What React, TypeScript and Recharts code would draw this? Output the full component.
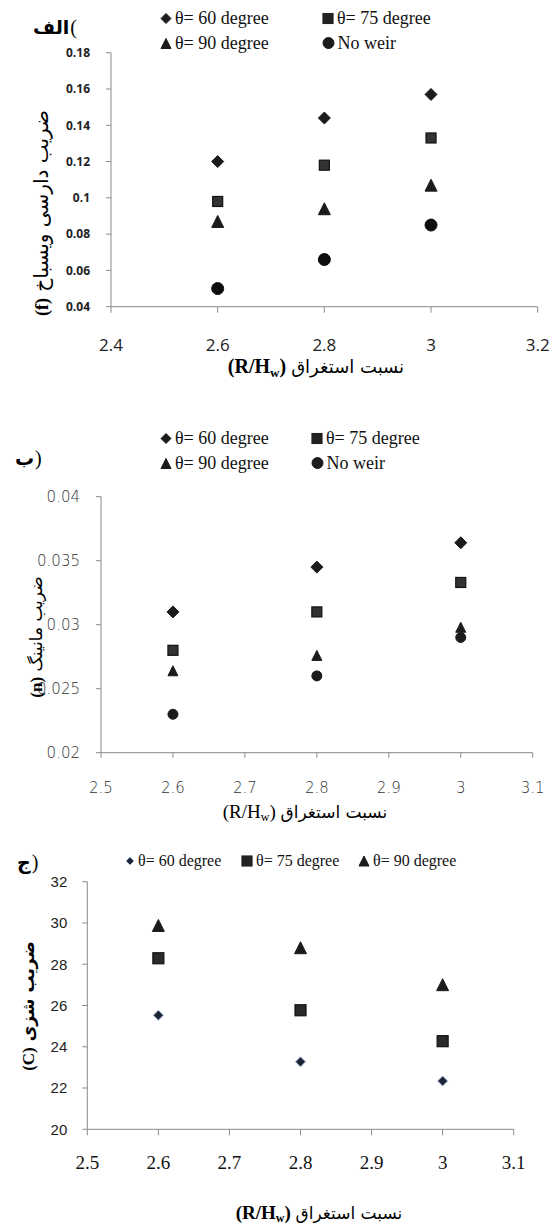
import React from "react";
import { ScatterChart, Scatter, XAxis, YAxis } from "recharts";

// shared x positions (R/Hw)
const X_VALUES = [2.6, 2.8, 3.0];

// (الف) Darcy-Weisbach f
const F_THETA60 = [0.120, 0.144, 0.157];
const F_THETA75 = [0.098, 0.118, 0.133];
const F_THETA90 = [0.087, 0.094, 0.107];
const F_NOWEIR = [0.050, 0.066, 0.085];
const F_Y_TICKS = [0.04, 0.06, 0.08, 0.1, 0.12, 0.14, 0.16, 0.18];
const F_X_TICKS = [2.4, 2.6, 2.8, 3, 3.2];

// (ب) Manning n
const N_THETA60 = [0.0310, 0.0345, 0.0364];
const N_THETA75 = [0.0280, 0.0310, 0.0333];
const N_THETA90 = [0.0264, 0.0276, 0.0298];
const N_NOWEIR = [0.0230, 0.0260, 0.0290];
const N_Y_TICKS = [0.02, 0.025, 0.03, 0.035, 0.04];
const N_X_TICKS = [2.5, 2.6, 2.7, 2.8, 2.9, 3, 3.1];

// (ج) Chezy C
const C_THETA60 = [25.53, 23.27, 22.34];
const C_THETA75 = [28.29, 25.77, 24.27];
const C_THETA90 = [29.88, 28.8, 27.01];
const C_Y_TICKS = [20, 22, 24, 26, 28, 30, 32];
const C_X_TICKS = [2.5, 2.6, 2.7, 2.8, 2.9, 3, 3.1];

const LABEL_60 = "θ= 60 degree";
const LABEL_75 = "θ= 75 degree";
const LABEL_90 = "θ= 90 degree";
const LABEL_NOWEIR = "No weir";

const toPoints = (ys: number[]) => X_VALUES.map((x, i) => ({ x, y: ys[i] }));

type Kind = "diamond" | "square" | "triangle" | "circle";

function Marker({ kind, cx, cy, s, fill, stroke }: {
  kind: Kind; cx: number; cy: number; s: number; fill: string; stroke?: string;
}) {
  const h = s / 2;
  const st = stroke || fill;
  if (kind === "diamond")
    return <polygon points={`${cx},${cy - h} ${cx + h},${cy} ${cx},${cy + h} ${cx - h},${cy}`} fill={fill} stroke={st} strokeWidth={1} />;
  if (kind === "square")
    return <rect x={cx - h} y={cy - h} width={s} height={s} fill={fill} stroke={st} strokeWidth={1.2} />;
  if (kind === "triangle")
    return <polygon points={`${cx},${cy - h} ${cx + h},${cy + h} ${cx - h},${cy + h}`} fill={fill} stroke={st} strokeWidth={1} />;
  return <circle cx={cx} cy={cy} r={h} fill={fill} stroke={st} strokeWidth={1} />;
}

const shape = (kind: Kind, s: number, fill: string, stroke?: string) => (p: any) =>
  <Marker kind={kind} cx={p.cx} cy={p.cy} s={s} fill={fill} stroke={stroke} />;

function LegendItem({ x, y, kind, s, label, fill, stroke, font }: any) {
  return (
    <div style={{ position: "absolute", left: x - s / 2 - 1, top: y, transform: "translateY(-50%)", display: "flex", alignItems: "center", whiteSpace: "nowrap", ...font }}>
      <svg width={s + 2} height={s + 2} style={{ marginRight: 3 }}>
        <Marker kind={kind} cx={s / 2 + 1} cy={s / 2 + 1} s={s} fill={fill} stroke={stroke} />
      </svg>
      <span>{label}</span>
    </div>
  );
}

function Txt({ x, y, rot, style, children }: any) {
  return (
    <div style={{
      position: "absolute", left: x, top: y, whiteSpace: "nowrap", lineHeight: 1,
      transform: `translate(-50%, -50%)${rot ? ` rotate(${rot}deg)` : ""}`, ...style,
    }}>{children}</div>
  );
}

// panel letter + paren kept as two boxes so the paren stays on the right
function Panel({ x, y, word, paren }: { x: number; y: number; word: string; paren: string }) {
  return (
    <div style={{ position: "absolute", left: x, top: y, transform: "translateY(-50%)", display: "flex", alignItems: "center", lineHeight: 1 }}>
      <span style={{ fontFamily: "'DejaVu Sans', sans-serif", fontSize: 19, fontWeight: 700 }}>{word}</span>
      <span style={{ fontFamily: "'Liberation Serif', serif", fontSize: 20, marginLeft: 1 }}>{paren}</span>
    </div>
  );
}

const Sub = ({ size }: { size: number }) => (
  <span style={{ fontSize: size, verticalAlign: "-0.3em", lineHeight: 0 }}>w</span>
);

const axisGrey = "#8a8a8a";
const ink = "#1b1b1b";
const serif = { fontFamily: "'Liberation Serif', 'Times New Roman', serif", fontSize: 18, color: "#111" };
const arabic = { fontFamily: "'DejaVu Sans', sans-serif" };

export default function App() {
  return (
    <div style={{ position: "absolute", left: 0, top: 0, width: 553, height: 1226, background: "#fff", overflow: "hidden" }}>
      {/* ---------- chart 1 ---------- */}
      <div style={{ position: "absolute", left: 0, top: 0 }}>
        <ScatterChart width={553} height={390} margin={{ top: 52.7, right: 15.3, bottom: 0, left: 0 }}>
          <XAxis type="number" dataKey="x" domain={[2.4, 3.2]} ticks={F_X_TICKS} interval={0}
            height={83.3} tickSize={6} tickMargin={26} stroke={axisGrey}
            tick={{ fill: "#222", fontSize: 17, fontFamily: "'Open Sans', sans-serif" }} />
          <YAxis type="number" dataKey="y" domain={[0.04, 0.18]} ticks={F_Y_TICKS} interval={0}
            width={111} tickSize={5} tickMargin={16} stroke={axisGrey}
            tick={{ fill: "#222", fontSize: 12, fontWeight: 700, fontFamily: "'Open Sans', sans-serif" }} />
          <Scatter name={LABEL_60} data={toPoints(F_THETA60)} shape={shape("diamond", 12, ink)} isAnimationActive={false} />
          <Scatter name={LABEL_75} data={toPoints(F_THETA75)} shape={shape("square", 10, "#333", "#111")} isAnimationActive={false} />
          <Scatter name={LABEL_90} data={toPoints(F_THETA90)} shape={shape("triangle", 12, ink)} isAnimationActive={false} />
          <Scatter name={LABEL_NOWEIR} data={toPoints(F_NOWEIR)} shape={shape("circle", 12, "#0d0d0d")} isAnimationActive={false} />
        </ScatterChart>
      </div>
      <Panel x={33} y={27} word="الف" paren="(" />
      <LegendItem x={166} y={18} kind="diamond" s={10} label={LABEL_60} fill={ink} font={serif} />
      <LegendItem x={328} y={18} kind="square" s={10} label={LABEL_75} fill="#222" font={serif} />
      <LegendItem x={166} y={43} kind="triangle" s={10} label={LABEL_90} fill={ink} font={serif} />
      <LegendItem x={328} y={43} kind="circle" s={11} label={LABEL_NOWEIR} fill={ink} font={serif} />
      <Txt x={41} y={213} rot={-90} style={{ ...arabic, fontSize: 20 }}>
        <b style={{ fontFamily: "'Liberation Serif', serif", fontSize: 18 }}>(f)</b> ضریب دارسی ویسباخ
      </Txt>
      <Txt x={316} y={366} style={{ fontFamily: "'Liberation Serif', serif", fontSize: 20 }}>
        <b>(R/H<Sub size={13} />)</b> <span style={{ ...arabic, fontSize: 18 }}>نسبت استغراق</span>
      </Txt>

      {/* ---------- chart 2 ---------- */}
      <div style={{ position: "absolute", left: 0, top: 400 }}>
        <ScatterChart width={553} height={430} margin={{ top: 96.7, right: 20.3, bottom: 0, left: 0 }}>
          <XAxis type="number" dataKey="x" domain={[2.5, 3.1]} ticks={N_X_TICKS} interval={0}
            height={77.3} tickSize={5} tickMargin={25} stroke={axisGrey}
            tick={{ fill: "#333", fontSize: 15, fontWeight: 200, fontFamily: "'DejaVu Sans', sans-serif" }} />
          <YAxis type="number" dataKey="y" domain={[0.02, 0.04]} ticks={N_Y_TICKS} interval={0}
            width={101} tickSize={5} tickMargin={16} stroke={axisGrey}
            tick={{ fill: "#333", fontSize: 15, fontWeight: 200, fontFamily: "'DejaVu Sans', sans-serif" }} />
          <Scatter name={LABEL_60} data={toPoints(N_THETA60)} shape={shape("diamond", 12, ink)} isAnimationActive={false} />
          <Scatter name={LABEL_75} data={toPoints(N_THETA75)} shape={shape("square", 10, "#333", "#111")} isAnimationActive={false} />
          <Scatter name={LABEL_90} data={toPoints(N_THETA90)} shape={shape("triangle", 10, ink)} isAnimationActive={false} />
          <Scatter name={LABEL_NOWEIR} data={toPoints(N_NOWEIR)} shape={shape("circle", 10, ink)} isAnimationActive={false} />
        </ScatterChart>
      </div>
      <Panel x={15} y={458} word="ب" paren=")" />
      <LegendItem x={166} y={438} kind="diamond" s={10} label={LABEL_60} fill={ink} font={serif} />
      <LegendItem x={317} y={438} kind="square" s={10} label={LABEL_75} fill="#222" font={serif} />
      <LegendItem x={166} y={463} kind="triangle" s={10} label={LABEL_90} fill={ink} font={serif} />
      <LegendItem x={317} y={463} kind="circle" s={11} label={LABEL_NOWEIR} fill={ink} font={serif} />
      <Txt x={36} y={637} rot={-90} style={{ ...arabic, fontSize: 17 }}>
        <b style={{ fontFamily: "'Liberation Serif', serif" }}>(n)</b> ضریب مانینگ
      </Txt>
      <Txt x={305} y={811} style={{ fontFamily: "'Liberation Serif', serif", fontSize: 19 }}>
        (R/H<Sub size={12} />) <span style={{ ...arabic, fontSize: 17 }}>نسبت استغراق</span>
      </Txt>

      {/* ---------- chart 3 ---------- */}
      <div style={{ position: "absolute", left: 0, top: 830 }}>
        <ScatterChart width={553} height={396} margin={{ top: 51.7, right: 39.3, bottom: 0, left: 0 }}>
          <XAxis type="number" dataKey="x" domain={[2.5, 3.1]} ticks={C_X_TICKS} interval={0}
            height={96.7} tickSize={6} tickMargin={20} stroke={axisGrey}
            tick={{ fill: "#111", fontSize: 19, fontFamily: "'Liberation Serif', serif" }} />
          <YAxis type="number" dataKey="y" domain={[20, 32]} ticks={C_Y_TICKS} interval={0}
            width={87.3} tickSize={5} tickMargin={15} stroke={axisGrey}
            tick={{ fill: "#222", fontSize: 15, fontFamily: "'Liberation Sans Narrow', 'Liberation Sans', sans-serif" }} />
          <Scatter name={LABEL_60} data={toPoints(C_THETA60)} shape={shape("diamond", 10, "#1c2434", "#9fb4d0")} isAnimationActive={false} />
          <Scatter name={LABEL_75} data={toPoints(C_THETA75)} shape={shape("square", 11, "#2a2a2a", "#111")} isAnimationActive={false} />
          <Scatter name={LABEL_90} data={toPoints(C_THETA90)} shape={shape("triangle", 12, ink)} isAnimationActive={false} />
        </ScatterChart>
      </div>
      <Panel x={17} y={862} word="ج" paren=")" />
      <LegendItem x={130} y={861} kind="diamond" s={8} label={LABEL_60} fill="#1c2434" stroke="#9fb4d0" font={{ ...serif, fontSize: 16 }} />
      <LegendItem x={247} y={861} kind="square" s={10} label={LABEL_75} fill="#222" font={{ ...serif, fontSize: 16 }} />
      <LegendItem x={364} y={861} kind="triangle" s={10} label={LABEL_90} fill={ink} font={{ ...serif, fontSize: 16 }} />
      <Txt x={28} y={1006} rot={-90} style={{ ...arabic, fontSize: 17, fontWeight: 700 }}>
        <span style={{ fontFamily: "'Liberation Serif', serif" }}>(C)</span> ضریب شزی
      </Txt>
      <Txt x={319} y={1212} style={{ fontFamily: "'Liberation Serif', serif", fontSize: 19 }}>
        <b>(R/H<Sub size={12} />)</b> <span style={{ ...arabic, fontSize: 17 }}>نسبت استغراق</span>
      </Txt>
    </div>
  );
}
